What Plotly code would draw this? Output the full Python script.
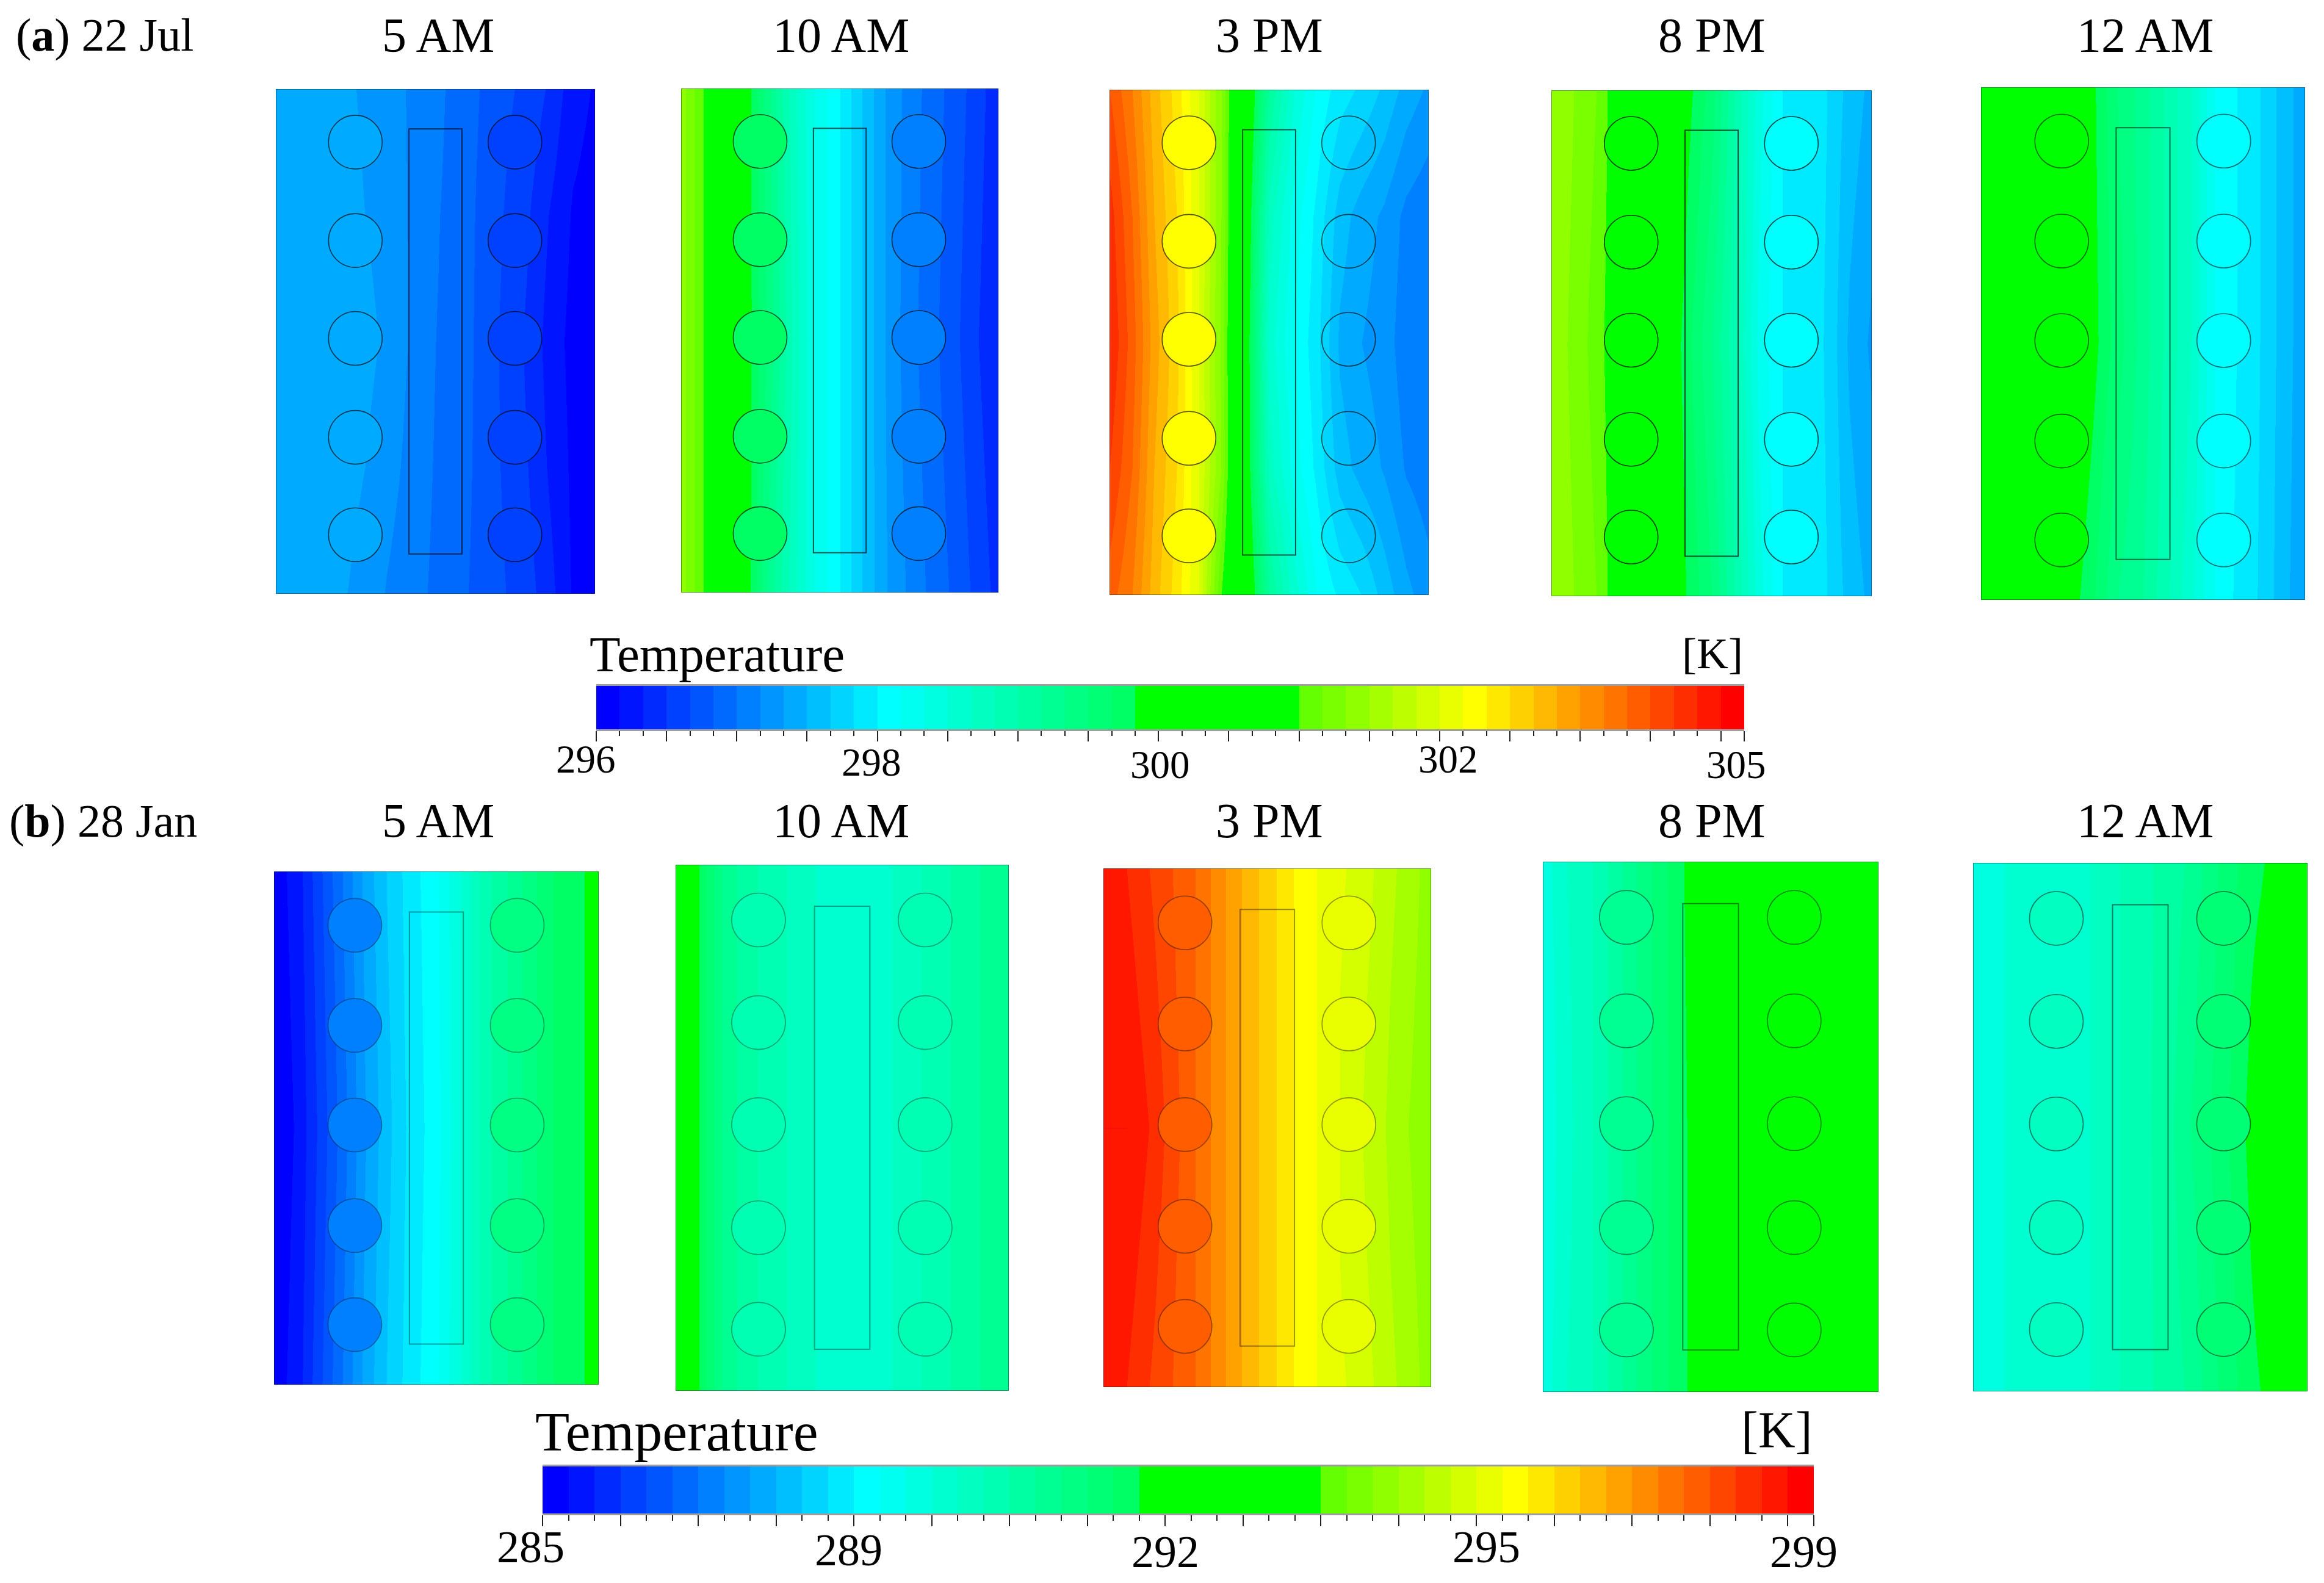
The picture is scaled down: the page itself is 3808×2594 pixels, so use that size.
import plotly.graph_objects as go

W, H = 3808, 2594
SERIF = "Liberation Serif"

# ---- data: contour level (0-49 on the legend bar) read at stations across each panel
STATIONS = [0, .07, .14, .21, .28, .35, .42, .5, .58, .65, .72, .79, .86, .93, 1]
ROWS = {3: [0, .5, 1], 5: [0, .25, .5, .75, 1]}  # from top to bottom of the panel

JUL_5AM = [[8.9,8.9,8.6,8.3,7.8,7.4,6.9,6.3,5.5,4.9,4.2,3.7,2.8,1.4,.9],
           [8.9,8.9,8.8,8.5,8,7.6,6.9,6.1,5.5,4.7,3.9,3.1,1.9,.9,.6],
           [8.9,8.9,8.8,8.6,8.3,7.8,6.9,6,5.5,4.6,3.7,2.8,1.5,.7,.5],
           [8.9,8.9,8.8,8.4,8,7.4,6.7,5.9,5.4,4.6,3.8,3,1.8,.8,.6],
           [8.9,8.9,8.6,8.1,7.6,6.9,6.4,5.8,5.2,4.6,4,3.4,2.3,.9,.7]]
JUL_10AM = [[32.5,30,27,23.5,20,16.5,14,12,9.7,7.8,6.6,5.5,4.6,3.5,2.3],
            [32.5,30,27,23.5,20.5,17,14,12,9.7,7.8,6.4,5.3,4.3,3.1,2],
            [32.5,30,27,23.5,19.5,16.5,14,12,9.7,8,6.8,5.7,4.8,3.7,2.6]]
JUL_3PM = [[45,43,40.5,38.5,36,32,26,19,15,12.8,11.5,10.8,9.8,8.6,7.8],
           [46.5,44,41,39,36,32,25.5,16.5,13.5,11.7,9.5,8.5,7.8,6.7,6.2],
           [47,44.5,41.5,39.3,36,31.8,25,15.5,13,11.3,8.8,8,7.5,6.4,6],
           [46,44,41,39,36,32,25,16.5,13.5,11.7,9.5,8.6,7.9,6.9,6.4],
           [44.5,43,40.5,38.5,36,30,26,19,15.5,13,11.8,11,9.6,8.3,7.4]]
JUL_8PM = [[33,32,31,29,28,26,23.5,21.5,17.6,14.4,12,11.5,11,9.6,8.7],
           [32.7,31.7,30.5,29,27,24.5,22.5,20,17,13.6,12,11.5,10.9,8.8,7.8],
           [33,32,31,29,28,25,23,21,17.6,14.4,12,11.5,11,9.6,8.7]]
JUL_12AM = [[27,27,27,26,25,23.1,21,19.5,17.6,16,13,12,11,9.6,8.3],
            [27,27,27,26,25,23.3,21.5,19.5,17.6,16,13,12,11,9.6,8.3],
            [27,27,26,25,23.5,22,20,19,17,15.2,13,11.8,10.9,9.4,8.1]]
JAN_5AM = [[.5,1.4,3.7,6,8.3,10.1,11.5,12.8,15.2,17.6,19,20.6,22,22.7,23.5],
           [.3,1.1,3.2,5.5,7.9,9.7,11.3,12.6,15.2,17.6,19,20.6,22,22.7,23.5],
           [.5,1.4,3.7,6,8.3,10.1,11.5,12.8,15.2,17.6,19,20.6,22,22.7,23.5]]
JAN_10AM = [[25,23,20,18.4,17.6,16.8,16,15.2,15.2,16,16.8,17.6,18.4,19.2,20],
            [25,23,20,18.4,17.6,16.8,16,15.2,15.2,16,16.8,17.6,18.4,19.2,20],
            [25,23,20,18.4,17.6,16.8,16,15.2,15.2,16,16.8,17.6,18.4,19.2,20]]
JAN_3PM = [[48,47,46,45,44,42.5,41,39.5,38,37,36.2,35.5,34.5,33.5,32.5],
           [48,47.5,46.5,45.2,44,42.5,41,39.5,38,37,36,35.2,34.2,33.2,32.5],
           [48,48,47,45.5,44,42.5,41,39.5,38,37,36,35,34,33,32.5],
           [48,47.5,46.5,45.2,44,42.5,41,39.5,38,37,36,35.2,34.2,33.2,32.5],
           [48,47,46,45,44,42.5,41,39.5,38,37,36.2,35.5,34.5,33.5,32.5]]
JAN_8PM = [[14.4,16,16.8,18.4,20,21.6,23,24.5,25,25.5,26,26,26,26,26.5],
           [14.1,15.7,16.8,18.4,20,21.6,22.8,24.5,25,25.5,26,26,26,26,26.5],
           [14.4,16,16.8,18.4,20,21.6,22.8,24.5,25,25.5,26,26,26,26,26.5]]
JAN_12AM = [[14.4,14.9,15.2,15.2,15.5,16,16.8,17.6,18.4,19.2,20.8,22,22.8,24,25.5],
            [14.4,14.9,15.2,15.2,15.5,16,16.8,17.6,18.5,19.6,21,22.2,23.6,24.8,25.8],
            [14.4,14.9,15.2,15.2,15.5,16,16.8,17.6,18.6,20,21.2,22.5,24,25.5,26],
            [14.4,14.9,15.2,15.2,15.5,16,16.8,17.6,18.5,19.6,21,22.2,23.6,24.8,25.8],
            [14.4,14.9,15.2,15.2,15.5,16,16.8,17.6,18.4,19.2,20.8,22,23,24.2,25.5]]

TIMES = ["5 AM", "10 AM", "3 PM", "8 PM", "12 AM"]
JUL_FIELDS = [JUL_5AM, JUL_10AM, JUL_3PM, JUL_8PM, JUL_12AM]
JAN_FIELDS = [JAN_5AM, JAN_10AM, JAN_3PM, JAN_8PM, JAN_12AM]

# level inside the pipes of the left and right column (None: follows the field)
JUL_PIPES = [(8.3, 3.7), (22, 6), (37, None), (25, 12), (25, 12)]
JAN_PIPES = [(6.5, 20), (17.5, 17.5), (44.5, 36), (19, 25), (16.5, 21)]

BAND_LEVELS = list(range(49))
JUL_TICKS = ["296", "298", "300", "302", "305"]
JAN_TICKS = ["285", "289", "292", "295", "299"]

# geometry of a panel, as fractions of width / height from the top left
PIPE_X = [.249, .749]
PIPE_Y = [.105, .30, .494, .69, .883]
CORE_X = [.417, .583]
CORE_Y = [.079, .921]

# ---- layout (pixels)
JUL_BOXES = [(452, 975, 146, 973), (1116, 1636, 145, 971), (1818, 2341, 147, 975),
             (2542, 3067, 148, 977), (3246, 3777, 143, 983)]
JAN_BOXES = [(449, 981, 1428, 2269), (1107, 1653, 1417, 2279), (1808, 2345, 1423, 2273),
             (2528, 3078, 1412, 2281), (3233, 3781, 1414, 2280)]
JUL_ALPHA = [.65, .65, .65, .7, .55]
JAN_ALPHA = [.35, .35, .4, .45, .5]
HEAD_X = [718, 1378, 2080, 2805, 3515]

STOPS = [(0, (0, 0, 255)), (12, (0, 255, 255)), (22, (0, 255, 100)), (23, (0, 255, 0)),
         (29, (0, 255, 0)), (30, (100, 255, 0)), (37, (255, 255, 0)), (48, (255, 0, 0))]


def band_colour(i):
    for (a, ca), (b, cb) in zip(STOPS, STOPS[1:]):
        if a <= i <= b:
            t = (i - a) / (b - a)
            return "rgb(%d,%d,%d)" % tuple(round(p + (q - p) * t) for p, q in zip(ca, cb))
    return "rgb(255,0,0)"


N = len(BAND_LEVELS)
SCALE = []
for i in BAND_LEVELS:
    c = band_colour(i)
    SCALE += [[i / N, c], [(i + 1) / N, c]]


def px(x):
    return x / W


def py(y):
    return 1 - y / H


fig = go.Figure()
layout_axes = {}
shapes = []
annotations = []
ax = 0


def note(text, x, y, size, anchor="center"):
    annotations.append(dict(text=text, x=px(x), y=py(y), xref="paper", yref="paper",
                            xanchor=anchor, yanchor="middle", showarrow=False,
                            font=dict(family=SERIF, size=size, color="black")))


def panel(field, box, alpha, pipes):
    global ax
    ax += 1
    x0, x1, y0, y1 = box
    s = "" if ax == 1 else str(ax)
    fig.add_trace(go.Heatmap(x=STATIONS, y=ROWS[len(field)], z=field, zmin=0, zmax=N, colorscale=SCALE,
                             zsmooth="best", showscale=False, xaxis="x" + s, yaxis="y" + s,
                             hoverinfo="skip"))
    layout_axes["xaxis" + s] = dict(domain=[px(x0), px(x1)], range=[0, 1], visible=False, anchor="y" + s)
    layout_axes["yaxis" + s] = dict(domain=[py(y1), py(y0)], range=[1, 0], visible=False, anchor="x" + s)
    line = dict(color="rgba(0,0,0,%.2f)" % alpha, width=1.6)
    rx, ry = 44 / (x1 - x0), 44 / (y1 - y0)
    for cx, level in zip(PIPE_X, pipes):
        fill = "rgba(0,0,0,0)" if level is None else band_colour(int(level))
        for cy in PIPE_Y:
            shapes.append(dict(type="circle", xref="x" + s, yref="y" + s, fillcolor=fill,
                               x0=cx - rx, x1=cx + rx, y0=cy - ry, y1=cy + ry, line=line))
    shapes.append(dict(type="rect", xref="x" + s, yref="y" + s, x0=CORE_X[0], x1=CORE_X[1],
                       y0=CORE_Y[0], y1=CORE_Y[1], line=dict(color=line["color"], width=2)))
    shapes.append(dict(type="rect", xref="x" + s, yref="y" + s, x0=0, x1=1, y0=0, y1=1,
                       line=dict(color="rgba(0,40,40,0.45)", width=2)))


def legend_bar(box, long_len, short_len):
    global ax
    ax += 1
    x0, x1, y0, y1 = box
    s = str(ax)
    fig.add_trace(go.Heatmap(x=[i + .5 for i in BAND_LEVELS], y=[0], z=[[i + .5 for i in BAND_LEVELS]],
                             zmin=0, zmax=N, colorscale=SCALE, showscale=False,
                             xaxis="x" + s, yaxis="y" + s, hoverinfo="skip"))
    layout_axes["xaxis" + s] = dict(domain=[px(x0), px(x1)], range=[0, N], anchor="y" + s,
                                    showgrid=False, zeroline=False, showticklabels=False,
                                    showline=True, mirror=True, linecolor="rgba(40,40,40,0.45)", linewidth=3,
                                    ticks="outside", tickmode="array",
                                    tickvals=[i for i in range(0, N + 1) if i % 3 == 0] + [N],
                                    ticklen=long_len, tickwidth=2, tickcolor="#222",
                                    minor=dict(tickmode="array",
                                               tickvals=[i for i in range(N) if i % 3],
                                               ticks="outside", ticklen=short_len, tickwidth=2,
                                               tickcolor="#222", showgrid=False))
    layout_axes["yaxis" + s] = dict(domain=[py(y1), py(y0)], range=[-.5, .5], visible=False, anchor="x" + s)


for field, box, alpha, pipes in zip(JUL_FIELDS, JUL_BOXES, JUL_ALPHA, JUL_PIPES):
    panel(field, box, alpha, pipes)
for field, box, alpha, pipes in zip(JAN_FIELDS, JAN_BOXES, JAN_ALPHA, JAN_PIPES):
    panel(field, box, alpha, pipes)

legend_bar((977, 2858, 1124, 1195), 17, 8)
legend_bar((889, 2972, 2403, 2480), 18, 9)

for t, x in zip(TIMES, HEAD_X):
    note(t, x, 58, 80)
    note(t, x, 1345, 80)
note("(<b>a</b>) 22 Jul", 24, 58, 76, "left")
note("(<b>b</b>) 28 Jan", 13, 1345, 76, "left")

note("Temperature", 964, 1072, 83, "left")
note("[K]", 2806, 1071, 72)
note("Temperature", 875, 2346, 92, "left")
note("[K]", 2911, 2343, 84)

for t, x, y in zip(JUL_TICKS, [960, 1428, 1901, 2373, 2845], [1244, 1249, 1253, 1244, 1253]):
    note(t, x, y, 65)
for t, x, y in zip(JAN_TICKS, [869, 1390, 1909, 2435, 2955], [2535, 2540, 2543, 2535, 2543]):
    note(t, x, y, 74)

fig.update_layout(width=W, height=H, autosize=False, margin=dict(l=0, r=0, t=0, b=0),
                  paper_bgcolor="white", plot_bgcolor="white", showlegend=False,
                  shapes=shapes, annotations=annotations, **layout_axes)

fig.write_html("out.html", config=dict(displayModeBar=False),
               post_script="document.body.style.margin='0';")
